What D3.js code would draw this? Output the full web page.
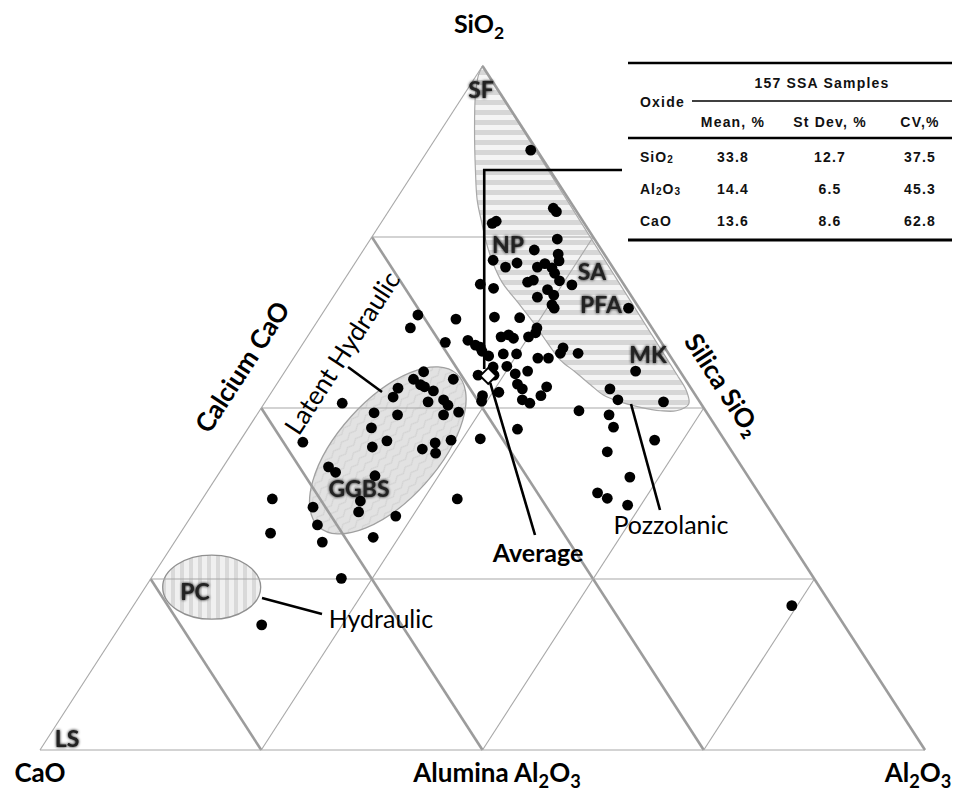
<!DOCTYPE html>
<html><head><meta charset="utf-8">
<script src="https://cdn.jsdelivr.net/npm/d3@7"></script>
<style>body{margin:0;background:#fff}</style>
</head><body>
<svg id="c" width="978" height="792"></svg>
<script>
// ---- data (percent) ----
const sio2 = [87.7,79.2,78.7,77.0,77.3,74.7,73.1,72.5,71.5,71.6,70.6,71.2,70.6,71.1,70.5,69.7,68.4,68.7,68.6,68.0,68.1,67.5,66.2,67.3,66.5,65.1,64.6,64.6,63.6,63.0,63.3,63.2,61.7,59.6,59.9,59.2,58.9,58.3,60.4,60.7,60.2,60.4,61.0,61.7,58.8,58.0,58.0,57.6,57.9,57.9,57.3,57.3,56.0,56.1,54.8,54.8,55.0,55.4,55.4,53.5,52.8,53.1,52.3,51.8,51.0,51.2,50.7,51.8,52.8,51.2,50.9,49.6,49.0,47.2,46.9,45.5,45.3,43.6,39.9,37.6,36.8,35.8,21.1,50.7,45.0,55.3,54.2,53.4,53.1,52.5,54.2,52.9,51.6,50.9,51.2,50.4,49.0,49.4,49.3,49.0,47.1,45.2,44.3,44.0,44.9,43.4,45.3,41.4,40.6,40.1,36.7,36.4,34.8,35.5,36.7,32.9,34.2,31.7,30.4,31.1,25.1,18.3];
const al2o3 = [11.6,18.4,19.0,12.6,12.9,21.1,19.3,22.3,22.9,15.4,17.3,18.3,20.9,21.5,22.6,23.3,20.9,21.4,24.4,26.1,15.7,17.5,23.1,23.7,24.8,25.3,25.8,34.2,10.9,15.5,19.7,22.6,11.0,16.0,18.4,19.6,20.3,20.8,21.9,22.6,23.4,25.0,25.5,25.3,29.7,29.8,31.8,21.9,23.4,24.9,27.6,28.8,23.2,24.7,22.1,23.9,26.2,27.4,39.6,27.2,28.1,30.7,25.7,24.1,24.4,28.9,30.0,30.7,38.0,39.7,45.0,36.1,39.8,41.2,30.5,27.0,46.8,42.3,46.7,44.2,45.7,48.5,74.4,8.8,7.2,15.7,15.1,16.3,16.9,18.2,19.6,14.0,14.1,18.4,20.0,20.9,21.1,22.6,13.1,15.9,13.9,16.6,15.4,21.2,22.2,23.0,23.8,11.9,13.1,17.8,7.9,18.0,18.6,13.1,28.8,14.9,23.1,10.2,16.7,22.1,21.5,15.9];
const cao = [0.7,2.4,2.3,10.4,9.8,4.2,7.6,5.2,5.6,13.0,12.1,10.5,8.5,7.4,6.9,7.0,10.7,9.9,7.0,5.9,16.2,15.0,10.7,9.0,8.7,9.6,9.6,1.2,25.5,21.5,17.0,14.2,27.3,24.4,21.7,21.2,20.8,20.9,17.7,16.7,16.4,14.6,13.5,13.0,11.5,12.2,10.2,20.5,18.7,17.2,15.1,13.9,20.8,19.2,23.1,21.3,18.8,17.2,5.0,19.3,19.1,16.2,22.0,24.1,24.6,19.9,19.3,17.5,9.2,9.1,4.1,14.3,11.2,11.6,22.6,27.5,7.9,14.1,13.4,18.2,17.5,15.7,4.5,40.5,47.8,29.0,30.7,30.3,30.0,29.3,26.2,33.1,34.3,30.7,28.8,28.7,29.9,28.0,37.6,35.1,39.0,38.2,40.3,34.8,32.9,33.6,30.9,46.7,46.3,42.1,55.4,45.6,46.6,51.4,34.5,52.2,42.7,58.1,52.9,46.8,53.4,65.8];

const tableOxides = ["SiO2","Al2O3","CaO"];
const tableMean = [33.8,14.4,13.6];
const tableSD = [12.7,6.5,8.6];
const tableCV = [37.5,45.3,62.8];
const tableHead = ["Mean, %","St Dev, %","CV,%"];
const gridLevels = [0.25,0.5,0.75];
// pozzolanic region outline [SiO2 %, Al2O3 %], from the apex down the left side and round the bottom
const sfRegionSi = [100,98.7,95.8,90.6,84.8,80.4,77.2,74.1,71.3,68.4,65.5,62.6,59.6,57.0,55.3,53.4,51.9,50.9,50.1,49.6,49.6,50.6,52.5,54.6];
const sfRegionAl = [0,0.2,1.3,3.8,6.8,9.2,11.3,13.4,15.5,18.0,21.2,24.4,27.5,30.3,32.8,35.5,37.7,40.1,42.8,45.3,47.1,48.0,46.8,44.8];

// ---- scales ----
const xS = d3.scaleLinear().domain([0,1]).range([40,925]);
const yS = d3.scaleLinear().domain([0,1]).range([750,66]);
function proj(si, ca, al){ const t=si+ca+al; const s=si/t, a=al/t; return [xS(a + s/2), yS(s)]; }

const svg = d3.select("#c");
const defs = svg.append("defs");
const pH = defs.append("pattern").attr("id","stripesH").attr("patternUnits","userSpaceOnUse").attr("width",10).attr("height",10);
pH.append("rect").attr("width",10).attr("height",10).attr("fill","#f4f4f4");
pH.append("rect").attr("width",10).attr("height",5).attr("fill","#d6d6d6");
const pV = defs.append("pattern").attr("id","stripesV").attr("patternUnits","userSpaceOnUse").attr("width",9).attr("height",9);
pV.append("rect").attr("width",9).attr("height",9).attr("fill","#f0f0f0");
pV.append("rect").attr("width",4).attr("height",9).attr("fill","#d9d9d9");
const pW = defs.append("pattern").attr("id","waves").attr("patternUnits","userSpaceOnUse").attr("width",12).attr("height",8);
pW.append("rect").attr("width",12).attr("height",8).attr("fill","#e2e2e2");
pW.append("path").attr("d","M0,4 Q3,1 6,4 T12,4").attr("fill","none").attr("stroke","#cfcfcf").attr("stroke-width",1);
const glow = defs.append("filter").attr("id","glow").attr("x","-20%").attr("y","-30%").attr("width","140%").attr("height","160%");
glow.append("feGaussianBlur").attr("in","SourceAlpha").attr("stdDeviation",1.4).attr("result","b");
const fm = glow.append("feMerge"); fm.append("feMergeNode").attr("in","b"); fm.append("feMergeNode").attr("in","SourceGraphic");

// ---- shaded regions ----
const sfPts = sfRegionSi.map((s,i)=>proj(s,100-s-sfRegionAl[i],sfRegionAl[i]));
svg.append("path").attr("d", d3.line().curve(d3.curveCatmullRom)(sfPts) + "Z")
  .attr("fill","url(#stripesH)").attr("stroke","#a8a8a8").attr("stroke-width",1.2);
const gg = proj(43.8,38.8,17.4);
svg.append("ellipse").attr("cx",gg[0]).attr("cy",gg[1]).attr("rx",103).attr("ry",50)
  .attr("transform",`rotate(-48,${gg[0]},${gg[1]})`)
  .attr("fill","url(#waves)").attr("stroke","#a0a0a0").attr("stroke-width",1.3);
const pc = proj(23.8,68.7,7.5);
svg.append("ellipse").attr("cx",pc[0]).attr("cy",pc[1]).attr("rx",49).attr("ry",32)
  .attr("fill","url(#stripesV)").attr("stroke","#909090").attr("stroke-width",1.3);

// ---- grid ----
const thin = {c:"#a8a8a8",w:1.1}, thick={c:"#9c9c9c",w:2.6};
function seg(p,q,st){ svg.append("line").attr("x1",p[0]).attr("y1",p[1]).attr("x2",q[0]).attr("y2",q[1]).attr("stroke",st.c).attr("stroke-width",st.w); }
gridLevels.forEach(k=>{
  seg(proj(k,1-k,0),proj(k,0,1-k),thin);
  seg(proj(0,1-k,k),proj(1-k,0,k),thin);
  seg(proj(0,k,1-k),proj(1-k,k,0),thick);
});
seg(proj(0,1,0),proj(1,0,0),thin);
seg(proj(0,1,0),proj(0,0,1),thin);
seg(proj(1,0,0),proj(0,0,1),thick);

// ---- leader lines ----
const avg = proj(tableMean[0],tableMean[2],tableMean[1]);
const lead = svg.append("g").attr("stroke","#000").attr("stroke-width",2.6).attr("fill","none");
lead.append("path").attr("d",`M${avg[0]-4},${avg[1]-7} V170 H622`);
lead.append("path").attr("d",`M${avg[0]+2},${avg[1]+7} L535,535`);
lead.append("path").attr("d","M631,404 L660,510");
lead.append("path").attr("d","M262,598 L322,614");
lead.append("path").attr("d","M348,367 L382,392");

// ---- points ----
svg.append("g").selectAll("circle").data(sio2.map((s,i)=>proj(s,cao[i],al2o3[i])))
  .join("circle").attr("cx",d=>d[0]).attr("cy",d=>d[1]).attr("r",5.4).attr("fill","#000");
svg.append("path").attr("d",`M${avg[0]},${avg[1]-8} L${avg[0]+8},${avg[1]} L${avg[0]},${avg[1]+8} L${avg[0]-8},${avg[1]} Z`)
  .attr("fill","#fff").attr("stroke","#000").attr("stroke-width",2);

// ---- text helpers ----
const FONT = "Lato, 'Open Sans', sans-serif";
function label(x,y,parts,o={}){
  const sz = o.size||25;
  const t = svg.append("text").attr("x",x).attr("y",y).attr("text-anchor",o.anchor||"middle")
    .attr("font-family",o.font||FONT).attr("font-size",sz).attr("font-weight",o.weight||"bold")
    .attr("fill",o.fill||"#000");
  if(o.rot!==undefined) t.attr("transform",`rotate(${o.rot},${x},${y})`);
  if(o.filter) t.attr("filter",o.filter);
  parts.forEach(p=>{
    if(typeof p==="string") t.append("tspan").text(p);
    else t.append("tspan").attr("font-size",sz*(p.scale||0.7)).attr("dy",p.dy).text(p.t);
  });
  return t;
}

// axis / vertex labels
label(479,33,["SiO",{t:"2",dy:6}],{size:25});
label(40,782,["CaO"],{size:26});
label(497,782,["Alumina Al",{t:"2",dy:6},{t:"O",dy:-6,scale:1},{t:"3",dy:6}],{size:26});
label(918,782,["Al",{t:"2",dy:6},{t:"O",dy:-6,scale:1},{t:"3",dy:6}],{size:26});
label(250,372,["Calcium CaO"],{size:26,rot:-57});
label(715,390,["Silica SiO",{t:"₂",dy:0,scale:1}],{size:26,rot:57});
label(350,358,["Latent Hydraulic"],{size:26,rot:-57,weight:"normal"});
label(671,534,["Pozzolanic"],{size:25,weight:"normal"});
label(381,628,["Hydraulic"],{size:25,weight:"normal"});
label(538,562,["Average"],{size:25});

// region labels
const regionLab = [["SF",481,98],["NP",508,253],["SA",592,280],["PFA",601,313],["MK",648,363],["GGBS",359,497],["PC",195,600],["LS",67,747]];
regionLab.forEach(r=>label(r[1],r[2],[r[0]],{size:23,fill:"#222",filter:"url(#glow)"}));

// ---- table ----
const TF = "'Liberation Sans', Arial, sans-serif";
const tg = svg.append("g");
const TX0 = 628, TX1 = 952;
function tline(x1,x2,y,w){ tg.append("line").attr("x1",x1).attr("x2",x2).attr("y1",y).attr("y2",y).attr("stroke","#000").attr("stroke-width",w); }
tline(TX0,TX1,63,2.5); tline(692,TX1,101,1.5); tline(TX0,TX1,138,2.5); tline(TX0,TX1,240,3);
function ttext(x,y,parts,anchor){
  const t = tg.append("text").attr("x",x).attr("y",y).attr("text-anchor",anchor||"middle")
    .attr("font-family",TF).attr("font-weight","bold").attr("font-size",14).attr("letter-spacing",1.2).attr("fill","#111");
  parts.forEach(p=>{ if(typeof p==="string") t.append("tspan").text(p); else t.append("tspan").attr("font-size",10).attr("dy",p.dy).text(p.t); });
}
ttext(822,88,["157 SSA Samples"]);
ttext(640,107,["Oxide"],"start");
const colX = [733,830,920];
tableHead.forEach((h,i)=>ttext(colX[i],127,[h]));
const rowY = [162,194,226];
const oxParts = [["SiO",{t:"2",dy:1}],["Al",{t:"2",dy:1},{t:"O",dy:-1},{t:"3",dy:1}],["CaO"]];
oxParts.forEach((p,i)=>{
  const t = tg.append("text").attr("x",640).attr("y",rowY[i]).attr("font-family",TF).attr("font-weight","bold").attr("font-size",14).attr("letter-spacing",1).attr("fill","#111");
  p.forEach(q=>{ if(typeof q==="string") t.append("tspan").text(q); else t.append("tspan").attr("font-size",q.t==="O"?14:10).attr("dy",q.dy).text(q.t); });
});
tableOxides.forEach((o,i)=>{
  ttext(colX[0],rowY[i],[tableMean[i].toFixed(1)]);
  ttext(colX[1],rowY[i],[tableSD[i].toFixed(1)]);
  ttext(colX[2],rowY[i],[tableCV[i].toFixed(1)]);
});
</script>
</body></html>
